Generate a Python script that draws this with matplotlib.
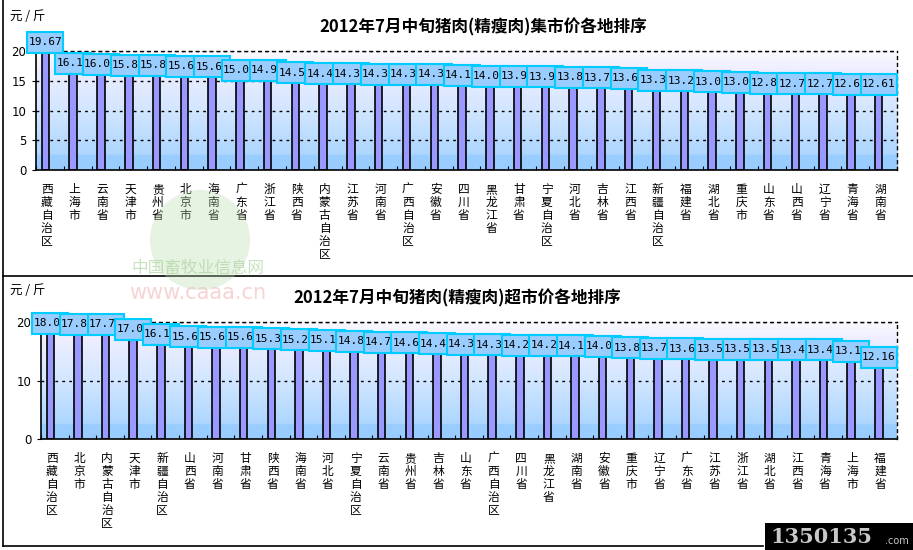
import matplotlib
matplotlib.use("Agg")
import matplotlib.pyplot as plt
import numpy as np
from matplotlib.colors import LinearSegmentedColormap
from matplotlib.lines import Line2D
from matplotlib.patches import Rectangle, Ellipse

plt.rcParams['font.family'] = ['Noto Sans CJK SC', 'DejaVu Sans']

# 集市价
market_names = ["西藏自治区", "上海市", "云南省", "天津市", "贵州省", "北京市", "海南省", "广东省",
                "浙江省", "陕西省", "内蒙古自治区", "江苏省", "河南省", "广西自治区", "安徽省", "四川省",
                "黑龙江省", "甘肃省", "宁夏自治区", "河北省", "吉林省", "江西省", "新疆自治区", "福建省",
                "湖北省", "重庆市", "山东省", "山西省", "辽宁省", "青海省", "湖南省"]
market_values = [19.67, 16.17, 16.00, 15.85, 15.82, 15.65, 15.62, 15.00,
                 14.96, 14.54, 14.44, 14.37, 14.33, 14.31, 14.30, 14.13,
                 14.02, 13.96, 13.94, 13.82, 13.78, 13.63, 13.33, 13.27,
                 13.05, 13.01, 12.84, 12.73, 12.70, 12.65, 12.61]

# 超市价
super_names = ["西藏自治区", "北京市", "内蒙古自治区", "天津市", "新疆自治区", "山西省", "河南省", "甘肃省",
               "陕西省", "海南省", "河北省", "宁夏自治区", "云南省", "贵州省", "吉林省", "山东省",
               "广西自治区", "四川省", "黑龙江省", "湖南省", "安徽省", "重庆市", "辽宁省", "广东省",
               "江苏省", "浙江省", "湖北省", "江西省", "青海省", "上海市", "福建省"]
super_values = [18.00, 17.85, 17.79, 17.00, 16.13, 15.68, 15.63, 15.60,
                15.30, 15.20, 15.10, 14.88, 14.78, 14.63, 14.47, 14.39,
                14.31, 14.26, 14.25, 14.13, 14.05, 13.84, 13.72, 13.67,
                13.57, 13.56, 13.54, 13.46, 13.43, 13.19, 12.16]

market_title = "2012年7月中旬猪肉(精瘦肉)集市价各地排序"
super_title = "2012年7月中旬猪肉(精瘦肉)超市价各地排序"
unit = "元 / 斤"

W, H = 913, 550
fig = plt.figure(figsize=(W / 100, H / 100), dpi=100)

bg_cmap = LinearSegmentedColormap.from_list(
    "bg", [(0.0, "#99CCFF"), (0.12, "#99CCFF"), (0.13, "#ADD6FF"),
           (0.5, "#D2E6FF"), (0.85, "#EEEEFF"), (1.0, "#FAFAFF")])


def px_axes(left, top, right, bottom):
    return fig.add_axes([left / W, 1 - bottom / H, (right - left) / W, (bottom - top) / H])


def draw_panel(ax, names, values, yticks, ymax=20):
    n = len(names)
    x = np.arange(n) - 0.16
    ax.set_xlim(-0.5, n - 0.5)
    ax.set_ylim(0, ymax)

    grad = np.linspace(0, 1, 256).reshape(-1, 1)
    ax.imshow(grad, extent=(-0.5, n - 0.5, 0, ymax), aspect="auto", origin="lower",
              cmap=bg_cmap, zorder=0, interpolation="bilinear")
    for t in yticks[1:]:
        ax.axhline(t, color="black", ls=(0, (2, 3)), lw=1, zorder=1)

    ax.bar(x, values, width=0.27, color="#9999FF", edgecolor="black", linewidth=1.2, zorder=2)

    for s in ["left", "bottom"]:
        ax.spines[s].set_linewidth(1.2)
    for s in ["top", "right"]:
        ax.spines[s].set_linestyle((0, (2, 3)))
        ax.spines[s].set_linewidth(1)

    ax.set_yticks(yticks)
    ax.tick_params(axis="y", labelsize=8.5, length=3, pad=4)
    for lab in ax.get_yticklabels():
        lab.set_family("DejaVu Sans")
    ax.set_xticks(np.arange(n + 1) - 0.5)
    ax.set_xticklabels([])
    ax.tick_params(axis="x", length=3, direction="in")

    # value boxes, each later one covering the previous
    bbox = ax.get_window_extent()
    bw = 36 / (bbox.width / n)
    bh = 21 / bbox.height * ymax
    for i, (xi, v) in enumerate(zip(x, values)):
        ax.add_patch(Rectangle((xi - bw / 2, v), bw, bh, facecolor="#99CCFF", edgecolor="#00CCFF",
                               lw=1.5, zorder=10 + 2 * i, clip_on=False))
        ax.text(xi, v + bh / 2, f"{v:.2f}", ha="center", va="center", fontsize=8,
                family="DejaVu Sans Mono", zorder=11 + 2 * i, clip_on=False)

    for xi, name in zip(x, names):
        ax.annotate("\n".join(name), xy=(xi + 0.05, 0), xytext=(0, -13), textcoords="offset pixels",
                    ha="center", va="top", fontsize=8.5, linespacing=1.0, annotation_clip=False)


ax1 = px_axes(36, 51, 897, 170)
draw_panel(ax1, market_names, market_values, [0, 5, 10, 15, 20])
ax2 = px_axes(41, 322, 897, 439)
draw_panel(ax2, super_names, super_values, [0, 10, 20])

fig.text(483 / W, 1 - 27 / H, market_title, ha="center", va="center", fontsize=12, fontweight="bold")
fig.text(457 / W, 1 - 298 / H, super_title, ha="center", va="center", fontsize=12, fontweight="bold")
fig.text(10 / W, 1 - 17 / H, unit, ha="left", va="center", fontsize=9)
fig.text(10 / W, 1 - 291 / H, unit, ha="left", va="center", fontsize=9)

# frame lines
fig.add_artist(Line2D([3 / W, 3 / W], [1, 1 - 546 / H], color="black", lw=1.2))
fig.add_artist(Line2D([3 / W, 1], [1 - 276 / H, 1 - 276 / H], color="black", lw=1.2))
fig.add_artist(Line2D([3 / W, 763 / W], [1 - 546 / H, 1 - 546 / H], color="black", lw=1.2))

# watermark
fig.add_artist(Ellipse((200 / W, 1 - 240 / H), 100 / W, 100 / H, facecolor="#B8DDB0",
                       edgecolor="none", alpha=0.35, zorder=30))
fig.text(198 / W, 1 - 268 / H, "中国畜牧业信息网", ha="center", va="center", fontsize=12,
         color="#9CCB8C", alpha=0.55, zorder=31)
fig.text(198 / W, 1 - 293 / H, "www.caaa.cn", ha="center", va="center", fontsize=15,
         color="#F2B8B8", alpha=0.6, family="DejaVu Sans", zorder=31)

# corner logo
fig.add_artist(Rectangle((765 / W, 0), 148 / W, 27 / H, facecolor="black", edgecolor="none", zorder=30))
fig.text(770 / W, 13 / H, "1350135", ha="left", va="center", fontsize=15, fontweight="bold",
         color="#C8C8C8", family="DejaVu Serif", zorder=31)
fig.text(885 / W, 9 / H, ".com", ha="left", va="center", fontsize=7, color="#C8C8C8",
         family="DejaVu Sans", zorder=31)

fig.savefig("out.png", dpi=100)
